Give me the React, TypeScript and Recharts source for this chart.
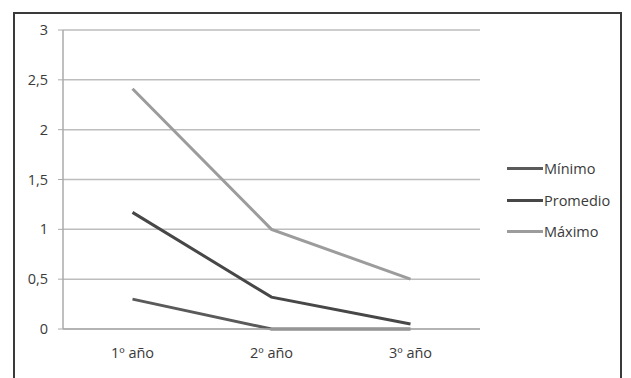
import React from 'react';
import { LineChart, Line, XAxis, YAxis, CartesianGrid, Legend } from 'recharts';

const categories = ['1º año', '2º año', '3º año'];
const minimo = [0.3, 0, 0];
const promedio = [1.17, 0.32, 0.05];
const maximo = [2.41, 1.0, 0.5];
const yTicks = [0, 0.5, 1, 1.5, 2, 2.5, 3];
const boundaryTicks = [0, 1, 2, 3];

const seriesDefs = [
  { key: 'Mínimo', color: '#5a5a5a' },
  { key: 'Promedio', color: '#474747' },
  { key: 'Máximo', color: '#9c9c9c' },
];

const data = categories.map((c, i) => ({
  cat: c,
  pos: i + 0.5,
  'Mínimo': minimo[i],
  'Promedio': promedio[i],
  'Máximo': maximo[i],
}));

const FONT = '"Open Sans", "Liberation Sans", sans-serif';
const FS = 14.5;

const LegendContent = () => (
  <div style={{ fontFamily: FONT, fontSize: FS, color: '#3a3a3a' }}>
    {seriesDefs.map((s) => (
      <div key={s.key} style={{ display: 'flex', alignItems: 'center', height: 31.5 }}>
        <div style={{ width: 36, height: 3, background: s.color, marginRight: 1 }} />
        <span>{s.key}</span>
      </div>
    ))}
  </div>
);

const Empty = () => <g />;

export default function App() {
  return (
    <div style={{ position: 'absolute', left: 0, top: 0, width: 631, height: 378, background: '#fff', overflow: 'hidden' }}>
      <div style={{ position: 'absolute', left: 13, top: 12, width: 609, height: 400, border: '2px solid #3a3a3a', boxSizing: 'border-box' }} />
      <div style={{ position: 'absolute', left: 0, top: 0 }}>
        <LineChart width={631} height={378} data={data} margin={{ top: 30, right: 151, bottom: 19, left: 0 }}>
          <CartesianGrid vertical={false} stroke="#bdbdbd" strokeWidth={1.5} />
          <XAxis
            xAxisId="b"
            type="number"
            dataKey="pos"
            domain={[0, 3]}
            ticks={boundaryTicks}
            tick={<Empty />}
            tickLine={{ stroke: '#999999', strokeWidth: 1 }}
            tickSize={5}
            axisLine={false}
            height={0}
          />
          <XAxis
            dataKey="cat"
            scale="band"
            height={30}
            tickLine={false}
            axisLine={{ stroke: '#aaaaaa', strokeWidth: 1.5 }}
            tick={{ fill: '#3a3a3a', fontSize: FS, fontFamily: FONT }}
            tickMargin={13}
          />
          <YAxis
            width={63}
            domain={[0, 3]}
            ticks={yTicks}
            tickFormatter={(v: number) => String(v).replace('.', ',')}
            tick={{ fill: '#3a3a3a', fontSize: FS, fontFamily: FONT }}
            axisLine={{ stroke: '#aaaaaa', strokeWidth: 1.5 }}
            tickLine={{ stroke: '#aaaaaa' }}
            tickSize={5}
            tickMargin={10}
          />
          {seriesDefs.map((s) => (
            <Line
              key={s.key}
              type="linear"
              dataKey={s.key}
              stroke={s.color}
              strokeWidth={3}
              dot={false}
              isAnimationActive={false}
            />
          ))}
          <Legend
            layout="horizontal"
            verticalAlign="middle"
            align="center"
            content={<LegendContent />}
            wrapperStyle={{ left: 507, top: 153, width: 120 }}
          />
        </LineChart>
      </div>
    </div>
  );
}
